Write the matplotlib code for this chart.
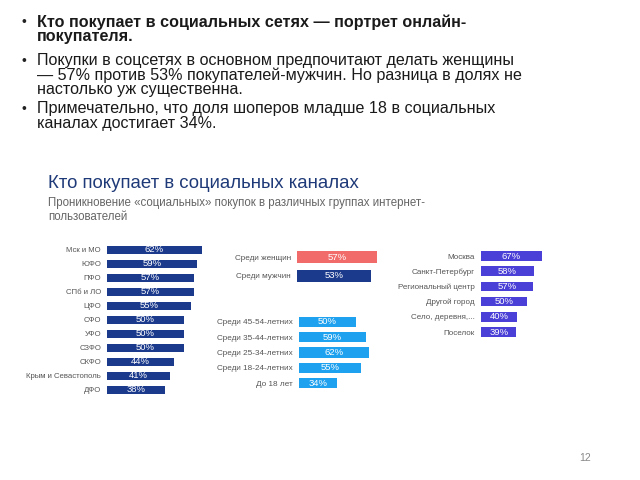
import matplotlib.pyplot as plt

plt.rcParams['font.family'] = ['Liberation Sans', 'DejaVu Sans']

# data
region_labels = ['Мск и МО', 'ЮФО', 'ПФО', 'СПб и ЛО', 'ЦФО', 'СФО', 'УФО',
                 'СЗФО', 'СКФО', 'Крым и Севастополь', 'ДФО']
region_values = [62, 59, 57, 57, 55, 50, 50, 50, 44, 41, 38]

gender_labels = ['Среди женщин', 'Среди мужчин']
gender_values = [57, 53]

age_labels = ['Среди 45-54-летних', 'Среди 35-44-летних', 'Среди 25-34-летних',
              'Среди 18-24-летних', 'До 18 лет']
age_values = [50, 59, 62, 55, 34]

city_labels = ['Москва', 'Санкт-Петербург', 'Региональный центр', 'Другой город',
               'Село, деревня,...', 'Поселок']
city_values = [67, 58, 57, 50, 40, 39]

bullets = [
    (['Кто покупает в социальных сетях — портрет онлайн-', 'покупателя.'], 'bold'),
    (['Покупки в соцсетях в основном предпочитают делать женщины',
      '— 57% против 53% покупателей-мужчин. Но разница в долях не',
      'настолько уж существенна.'], 'normal'),
    (['Примечательно, что доля шоперов младше 18 в социальных',
      'каналах достигает 34%.'], 'normal'),
]
bullet_rows = [[22, 36.5], [60.5, 75, 89.5], [109, 123.5]]

W, H = 640, 480
fig = plt.figure(figsize=(6.4, 4.8), dpi=100)
fig.patch.set_facecolor('white')


def px(x, y):
    return x / W, 1 - y / H


# bullet text
for (lines, weight), rows in zip(bullets, bullet_rows):
    bx, by = px(22, rows[0])
    fig.text(bx, by, '•', fontsize=10, va='center', ha='left', color='#222222')
    for line, yy in zip(lines, rows):
        tx, ty = px(37, yy)
        fig.text(tx, ty, line, fontsize=11.6, va='center', ha='left',
                 fontweight=weight, color='#1a1a1a')

# chart header
tx, ty = px(48, 183)
fig.text(tx, ty, 'Кто покупает в социальных каналах', fontsize=13.4,
         color='#1f3a78', va='center', ha='left')
tx, ty = px(48, 203)
fig.text(tx, ty, 'Проникновение «социальных» покупок в различных группах интернет-',
         fontsize=8.3, color='#666666', va='center', ha='left')
tx, ty = px(48, 217)
fig.text(tx, ty, 'пользователей', fontsize=8.3, color='#666666', va='center', ha='left')

# page number
tx, ty = px(585, 458)
fig.text(tx, ty, '12', fontsize=7.5, color='#888888', va='center', ha='center')


def bar_panel(x0, y_first, row_gap, px_per_pct, labels, values, colors, bh, fs):
    n = len(values)
    top = y_first - row_gap / 2
    height = row_gap * n
    width = px_per_pct * 100
    ax = fig.add_axes([x0 / W, 1 - (top + height) / H, width / W, height / H])
    ypos = list(range(n))
    ax.barh(ypos, values, height=bh, color=colors)
    for y, v in zip(ypos, values):
        ax.text(v / 2, y, f'{v}%', color='white', fontsize=6.8, ha='center',
                va='center')
    ax.set_xlim(0, 100)
    ax.set_ylim(n - 0.5, -0.5)
    ax.set_yticks(ypos)
    ax.set_yticklabels(labels, fontsize=fs, color='#555555')
    ax.set_xticks([])
    ax.tick_params(axis='y', length=0, pad=4.3)
    for s in ax.spines.values():
        s.set_visible(False)
    ax.patch.set_alpha(0)
    return ax


navy = '#1b3a8c'
bar_panel(107, 250, 14, 1.53, region_labels, region_values, navy, 0.64, 5.6)
bar_panel(297, 257, 19, 1.4, gender_labels, gender_values, ['#f26b6b', navy], 0.65, 5.9)
bar_panel(299, 322, 15.25, 1.13, age_labels, age_values, '#1ea1ef', 0.66, 5.9)
bar_panel(481, 256, 15.2, 0.91, city_labels, city_values, '#4a3fd6', 0.64, 5.8)

fig.savefig('out.png', dpi=100, facecolor='white')
